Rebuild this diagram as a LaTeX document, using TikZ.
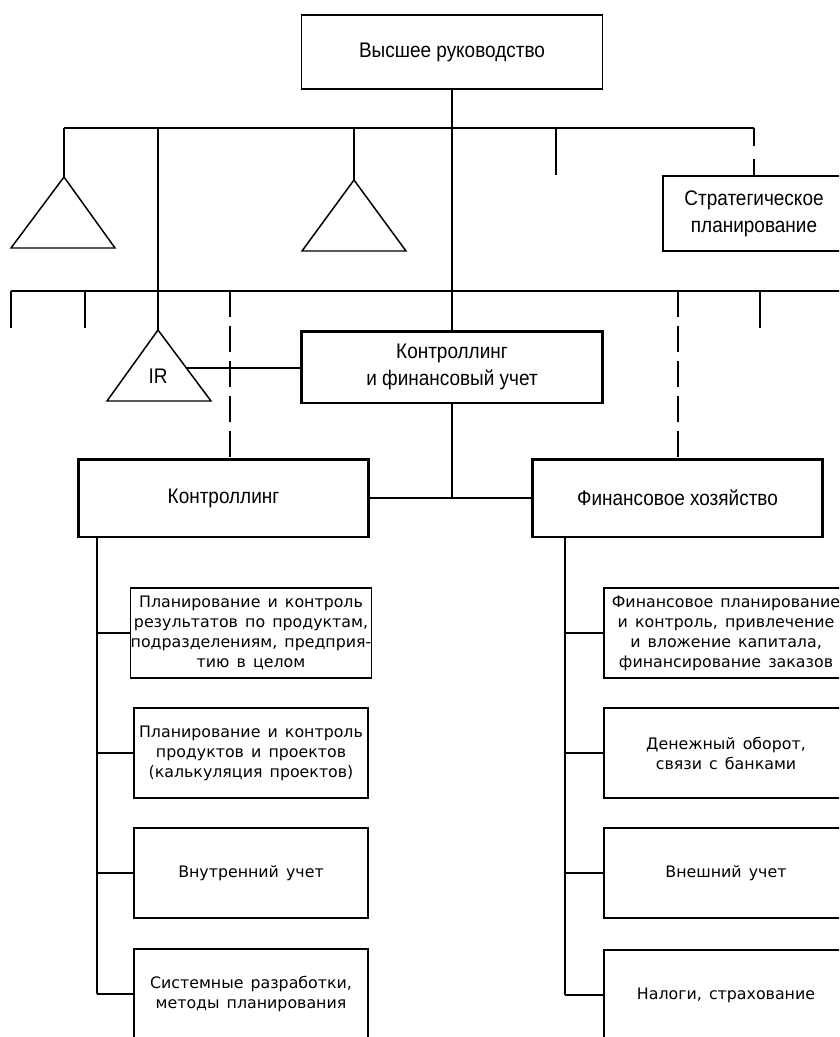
\documentclass[tikz,border=0pt]{standalone}
\usepackage{fontspec}
\setmainfont{Liberation Sans}
\newfontfamily\narrowfont[FakeStretch=0.9]{Liberation Sans}
\newfontfamily\widefont{DejaVu Sans}
\newcommand{\headfont}{\narrowfont\fontsize{12}{15.4}\selectfont}
\newcommand{\subfont}{\widefont\fontsize{9}{11.4}\selectfont\spaceskip=0.45em plus 0.1em}

\begin{document}
\begin{tikzpicture}[x=0.02cm, y=-0.02cm,
  box/.style={draw, line width=0.85pt, inner sep=0pt, align=center, font=\headfont},
  mainbox/.style={box, line width=1.7pt, minimum width=5.82cm, minimum height=1.56cm},
  subbox/.style={draw, line width=0.85pt, inner sep=0pt, align=center,
    minimum height=1.8cm, font=\subfont},
  link/.style={line width=0.85pt},
  dlink/.style={link, dash pattern=on 0.52cm off 0.18cm}]

  \useasboundingbox (0,0) rectangle (839,1037);
  \clip (0,0) rectangle (839,1037);

  % top of the chart
  \node[box, minimum width=6.02cm, minimum height=1.48cm] (top) at (452,52) {Высшее руководство};
  \node[box, minimum width=3.64cm, minimum height=1.5cm] (strat) at (754,213.5) {Стратегическое\\планирование};
  \node[box, line width=1.7pt, minimum width=6.02cm, minimum height=1.44cm] (mid) at (452,367)
    {Контроллинг\\и финансовый учет};

  \draw[link] (top) -- (mid);

  % first line of staff units
  \coordinate (busA) at (64,128);
  \coordinate (busB) at (754,128);
  \coordinate (triA) at (64,177);
  \coordinate (triB) at (354,180);
  \coordinate (irtop) at (158,330);
  \coordinate (stub) at (556,175);
  \draw[link] (busA) -- (busB);
  \draw[link] (busA) -- (triA);
  \draw[link] (triB |- busA) -- (triB);
  \draw[link] (irtop |- busA) -- (irtop);
  \draw[link] (stub |- busA) -- (stub);
  \draw[link, dash pattern=on 0.36cm off 0.26cm] (busB) -- (strat.north);

  \draw[link] (triA) -- (11,248) -- (115,248) -- cycle;
  \draw[link] (triB) -- (302,251) -- (406,251) -- cycle;

  % second line
  \coordinate (busC) at (11,291);
  \coordinate (busD) at (845,291);
  \draw[link] (busC) -- (busD);
  \draw[link] (busC) -- (11,328);
  \draw[link] (85,291) -- (85,328);
  \draw[link] (760,291) -- (760,328);

  % IR
  \draw[link] (irtop) -- (107,401) -- (211,401) -- cycle;
  \node[font=\headfont] (ir) at (158,376) {IR};
  \coordinate (irside) at (186.5,368);
  \draw[link] (irside) -- (irside -| mid.west);

  % controlling and finance
  \node[mainbox] (ctrl) at (223.5,498) {Контроллинг};
  \node[mainbox] (fin) at (677.5,498) {Финансовое хозяйство};
  \draw[link] (ctrl) -- (fin);
  \draw[link] (mid) -- (mid |- ctrl.east);

  \coordinate (dA) at (230,291);
  \coordinate (dB) at (678,291);
  \draw[dlink] (dA) -- (dA |- ctrl.north);
  \draw[dlink] (dB) -- (dB |- fin.north);

  % left column
  \node[subbox, minimum width=4.68cm] (c1) at (251,633)
    {Планирование и контроль\\результатов по продуктам,\\подразделениям, предприя-\\тию в целом};
  \node[subbox, minimum width=4.68cm] (c2) at (251,753)
    {Планирование и контроль\\продуктов и проектов\\(калькуляция проектов)};
  \node[subbox, minimum width=4.68cm] (c3) at (251,873) {Внутренний учет};
  \node[subbox, minimum width=4.68cm] (c4) at (251,994)
    {Системные разработки,\\методы планирования};

  \coordinate (lt) at (97,994);
  \draw[link] (lt |- ctrl.south) -- (lt);
  \draw[link] (lt |- c1.west) -- (c1.west);
  \draw[link] (lt |- c2.west) -- (c2.west);
  \draw[link] (lt |- c3.west) -- (c3.west);
  \draw[link] (lt) -- (c4.west);

  % right column
  \node[subbox, minimum width=4.88cm] (f1) at (726,633)
    {Финансовое планирование\\и контроль, привлечение\\и вложение капитала,\\финансирование заказов};
  \node[subbox, minimum width=4.88cm] (f2) at (726,753) {Денежный оборот,\\связи с банками};
  \node[subbox, minimum width=4.88cm] (f3) at (726,873) {Внешний учет};
  \node[subbox, minimum width=4.88cm] (f4) at (726,995) {Налоги, страхование};

  \coordinate (rt) at (565,995);
  \draw[link] (rt |- fin.south) -- (rt);
  \draw[link] (rt |- f1.west) -- (f1.west);
  \draw[link] (rt |- f2.west) -- (f2.west);
  \draw[link] (rt |- f3.west) -- (f3.west);
  \draw[link] (rt) -- (f4.west);

\end{tikzpicture}
\end{document}
